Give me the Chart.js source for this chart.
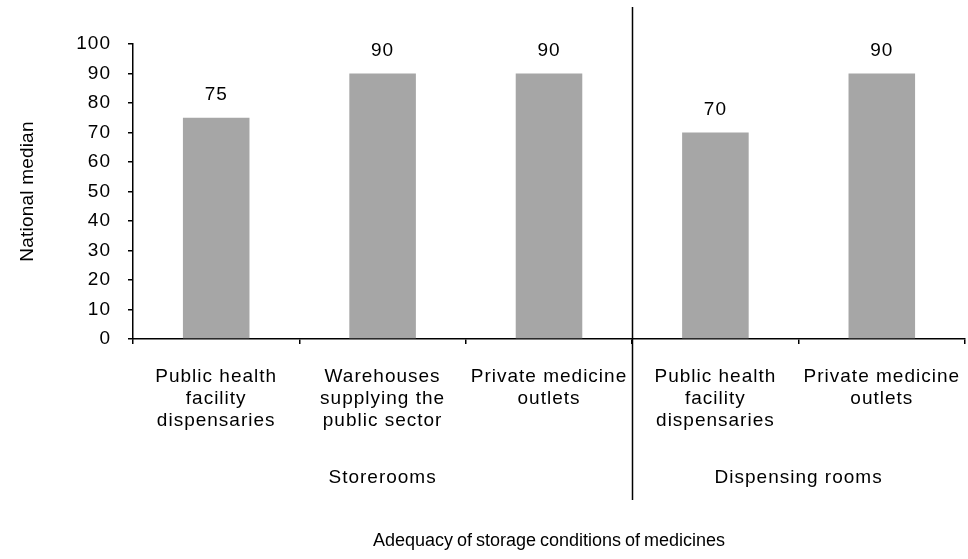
<!DOCTYPE html>
<html>
<head>
<meta charset="utf-8">
<script src="https://cdn.jsdelivr.net/npm/chart.js@4"></script>
<style>
  html, body { margin: 0; padding: 0; background: #fff; }
  #wrap { width: 968px; height: 559px; }
</style>
</head>
<body>
<div id="wrap"><canvas id="bar"></canvas></div>
<script>
// data
const categories = [
  ["Public health", "facility", "dispensaries"],
  ["Warehouses", "supplying the", "public sector"],
  ["Private medicine", "outlets"],
  ["Public health", "facility", "dispensaries"],
  ["Private medicine", "outlets"]
];
const values = [75, 90, 90, 70, 90];
const groups = ["Storerooms", "Dispensing rooms"];
const groupSizes = [3, 2];
const yTicks = { min: 0, max: 100, step: 10 };
const yTitle = "National median";
const xTitle = "Adequacy of storage conditions of medicines";

const FONT = "'Liberation Sans', Arial, sans-serif";
const SIZE = 19;
const SPACING = "1px";

// extra drawing: letter spacing, value labels, divider, group labels, titles
const extras = {
  id: "extras",
  beforeDraw(chart) {
    chart.ctx.letterSpacing = SPACING;
  },
  afterDraw(chart) {
    const ctx = chart.ctx;
    const x = chart.scales.x;
    const area = chart.chartArea;
    ctx.save();
    ctx.letterSpacing = SPACING;
    ctx.fillStyle = "#000";
    ctx.font = SIZE + "px " + FONT;
    ctx.textAlign = "center";
    ctx.textBaseline = "middle";

    // value labels above bars
    chart.getDatasetMeta(0).data.forEach((bar, i) => {
      ctx.fillText(String(values[i]), bar.x, bar.y - 23);
    });

    // group labels + divider
    let start = 0;
    groups.forEach((g, gi) => {
      const end = start + groupSizes[gi] - 1;
      const cx = (x.getPixelForValue(start) + x.getPixelForValue(end)) / 2;
      ctx.fillText(g, cx, 478);
      if (gi < groups.length - 1) {
        const dx = Math.round((x.getPixelForValue(end) + x.getPixelForValue(end + 1)) / 2) + 0.5;
        ctx.strokeStyle = "#000";
        ctx.lineWidth = 1.5;
        ctx.beginPath();
        ctx.moveTo(dx, 7);
        ctx.lineTo(dx, 500);
        ctx.stroke();
      }
      start = end + 1;
    });

    // axis titles
    ctx.letterSpacing = "0px";
    ctx.wordSpacing = "-1px";
    ctx.font = "18px " + FONT;
    ctx.fillText(xTitle, (area.left + area.right) / 2, 541);
    ctx.wordSpacing = "0px";
    ctx.translate(28, (area.top + area.bottom) / 2);
    ctx.rotate(-Math.PI / 2);
    ctx.font = "19px " + FONT;
    ctx.letterSpacing = "0.2px";
    ctx.fillText(yTitle, 0, 0);
    ctx.restore();
  }
};

const bar = document.getElementById("bar");
var myChart = new Chart(bar, {
  type: "bar",
  data: {
    labels: categories,
    datasets: [
      {
        data: values,
        backgroundColor: "#a6a6a6",
        borderWidth: 0,
        barPercentage: 0.4,
        categoryPercentage: 1,
      },
    ],
  },
  options: {
    responsive: true,
    maintainAspectRatio: false,
    animation: false,
    devicePixelRatio: 1,
    layout: { padding: { top: 44, right: 3, left: 0, bottom: 0 } },
    plugins: {
      legend: { display: false },
      tooltip: { enabled: false },
    },
    scales: {
      y: {
        min: yTicks.min,
        max: yTicks.max,
        afterFit(scale) { scale.width = 133; },
        ticks: {
          stepSize: yTicks.step,
          color: "#000",
          padding: 17,
          font: { family: FONT, size: SIZE },
        },
        grid: { drawOnChartArea: false, color: "#000", tickLength: 5, lineWidth: 1.5 },
        border: { color: "#000", width: 1.5 },
      },
      x: {
        afterFit(scale) {
          scale.height = 220;
          scale.paddingLeft = 0;
          scale.paddingRight = 0;
        },
        ticks: {
          color: "#000",
          padding: 22,
          maxRotation: 0,
          autoSkip: false,
          font: { family: FONT, size: SIZE, lineHeight: 22 / SIZE },
        },
        grid: { offset: true, drawOnChartArea: false, color: "#000", tickLength: 5, lineWidth: 1.5 },
        border: { color: "#000", width: 1.5 },
      },
    },
  },
  plugins: [extras],
});
</script>
</body>
</html>
